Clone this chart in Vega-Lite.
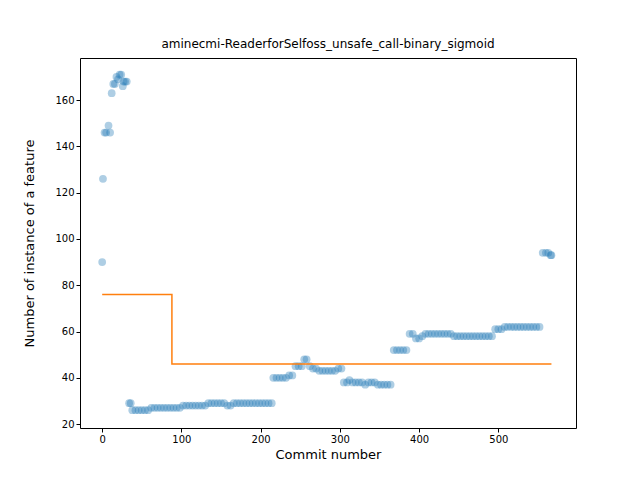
{
  "$schema": "https://vega.github.io/schema/vega-lite/v6.json",
  "width": 496,
  "height": 370,
  "autosize": "none",
  "padding": {"left": 80, "top": 58, "right": 64, "bottom": 52},
  "title": {"text": "aminecmi-ReaderforSelfoss_unsafe_call-binary_sigmoid", "font": "DejaVu Sans", "fontSize": 12, "fontWeight": "normal", "offset": 7},
  "config": {
    "view": {"stroke": "black"},
    "axis": {"labelFont": "DejaVu Sans", "titleFont": "DejaVu Sans", "labelFontSize": 10, "titleFontSize": 13, "titleFontWeight": "normal", "grid": false, "domain": false, "tickColor": "black", "labelColor": "black", "titleColor": "black", "tickSize": 4}
  },
  "layer": [
    {
      "data": {"values": [
        {"c":0,"v":90},{"c":1,"v":126},{"c":3,"v":146},{"c":5,"v":146},{"c":8,"v":149},{"c":10,"v":146},{"c":12,"v":163},{"c":14,"v":167},{"c":16,"v":167},{"c":18,"v":170},{"c":20,"v":169},{"c":22,"v":171},{"c":24,"v":171},{"c":26,"v":166},{"c":27,"v":168},{"c":29,"v":168},{"c":31,"v":168},
        {"c":34,"v":29},{"c":36,"v":29},{"c":38,"v":26},{"c":42,"v":26},{"c":46,"v":26},{"c":50,"v":26},{"c":54,"v":26},{"c":58,"v":26},{"c":62,"v":27},{"c":66,"v":27},{"c":70,"v":27},{"c":74,"v":27},{"c":78,"v":27},{"c":82,"v":27},{"c":86,"v":27},{"c":90,"v":27},{"c":94,"v":27},{"c":98,"v":27},
        {"c":102,"v":28},{"c":106,"v":28},{"c":110,"v":28},{"c":114,"v":28},{"c":118,"v":28},{"c":122,"v":28},{"c":126,"v":28},{"c":130,"v":28},{"c":134,"v":29},{"c":138,"v":29},{"c":142,"v":29},{"c":146,"v":29},{"c":150,"v":29},{"c":154,"v":29},{"c":158,"v":28},{"c":162,"v":28},{"c":166,"v":29},{"c":170,"v":29},{"c":174,"v":29},{"c":178,"v":29},{"c":182,"v":29},{"c":186,"v":29},{"c":190,"v":29},{"c":194,"v":29},{"c":198,"v":29},{"c":202,"v":29},{"c":206,"v":29},{"c":210,"v":29},{"c":214,"v":29},
        {"c":216,"v":40},{"c":220,"v":40},{"c":224,"v":40},{"c":228,"v":40},{"c":232,"v":40},{"c":236,"v":41},{"c":240,"v":41},{"c":244,"v":45},{"c":248,"v":45},{"c":252,"v":45},{"c":255,"v":48},{"c":258,"v":48},{"c":262,"v":45},{"c":266,"v":44},{"c":270,"v":44},{"c":274,"v":43},{"c":278,"v":43},{"c":282,"v":43},{"c":286,"v":43},{"c":290,"v":43},{"c":294,"v":43},{"c":298,"v":44},{"c":302,"v":44},
        {"c":305,"v":38},{"c":309,"v":38},{"c":312,"v":39},{"c":316,"v":38},{"c":320,"v":38},{"c":324,"v":38},{"c":328,"v":38},{"c":332,"v":37},{"c":336,"v":38},{"c":340,"v":38},{"c":344,"v":38},{"c":348,"v":37},{"c":352,"v":37},{"c":356,"v":37},{"c":360,"v":37},{"c":364,"v":37},
        {"c":368,"v":52},{"c":372,"v":52},{"c":376,"v":52},{"c":380,"v":52},{"c":384,"v":52},{"c":388,"v":59},{"c":392,"v":59},{"c":396,"v":57},{"c":400,"v":57},{"c":404,"v":58},{"c":408,"v":59},{"c":412,"v":59},{"c":416,"v":59},{"c":420,"v":59},{"c":424,"v":59},{"c":428,"v":59},{"c":432,"v":59},{"c":436,"v":59},{"c":440,"v":59},
        {"c":444,"v":58},{"c":448,"v":58},{"c":452,"v":58},{"c":456,"v":58},{"c":460,"v":58},{"c":464,"v":58},{"c":468,"v":58},{"c":472,"v":58},{"c":476,"v":58},{"c":480,"v":58},{"c":484,"v":58},{"c":488,"v":58},{"c":492,"v":58},{"c":496,"v":61},{"c":500,"v":61},{"c":504,"v":61},{"c":508,"v":62},{"c":512,"v":62},{"c":516,"v":62},{"c":520,"v":62},{"c":524,"v":62},{"c":528,"v":62},{"c":532,"v":62},{"c":536,"v":62},{"c":540,"v":62},{"c":544,"v":62},{"c":548,"v":62},{"c":552,"v":62},
        {"c":556,"v":94},{"c":560,"v":94},{"c":563,"v":94},{"c":566,"v":93},{"c":567,"v":93}
      ]},
      "mark": {"type": "circle", "size": 60, "fillOpacity": 0.6, "opacity": 0.6, "color": "#1f77b4"},
      "encoding": {
        "x": {"field": "c", "type": "quantitative", "scale": {"domain": [-28, 598], "nice": false, "zero": false}, "axis": {"values": [0, 100, 200, 300, 400, 500]}, "title": "Commit number"},
        "y": {"field": "v", "type": "quantitative", "scale": {"domain": [18.3, 178.2], "nice": false, "zero": false}, "axis": {"values": [20, 40, 60, 80, 100, 120, 140, 160], "titlePadding": 18}, "title": "Number of instance of a feature"},
        "shape": {"datum": "data", "scale": {"range": ["circle"]}, "legend": {"title": null, "orient": "top-right", "symbolFillColor": "#1f77b4", "symbolStrokeColor": "#1f77b4", "symbolOpacity": 0.6, "symbolSize": 50, "labelFont": "DejaVu Sans", "labelFontSize": 10, "strokeColor": "#cccccc", "padding": 6, "cornerRadius": 3, "fillColor": "white", "offset": 7}}
      }
    },
    {
      "data": {"values": [
        {"i":0,"c":0,"v":76},{"i":1,"c":88,"v":76},{"i":2,"c":88,"v":46},{"i":3,"c":567,"v":46}
      ]},
      "mark": {"type": "line", "color": "#ff7f0e", "strokeWidth": 1.5},
      "encoding": {
        "x": {"field": "c", "type": "quantitative"},
        "y": {"field": "v", "type": "quantitative"},
        "order": {"field": "i"}
      }
    }
  ]
}
